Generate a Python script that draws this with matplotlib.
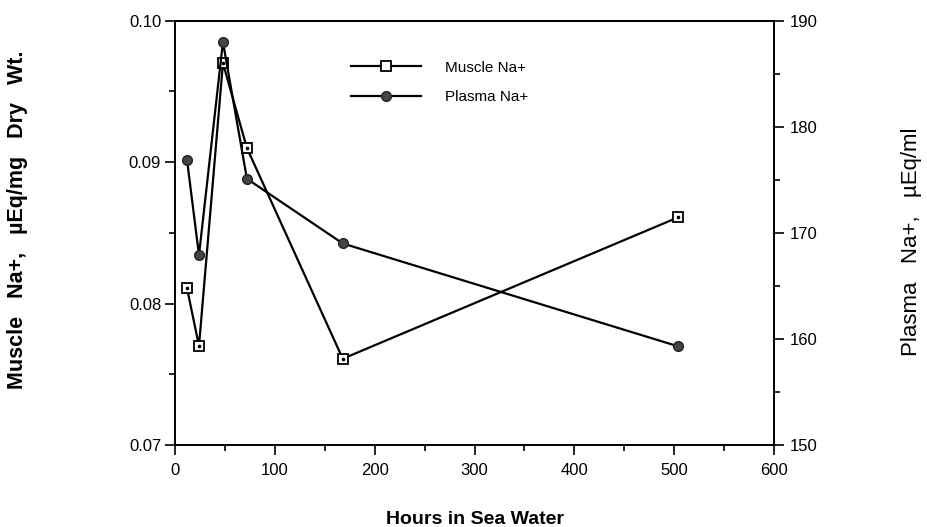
import matplotlib
matplotlib.use("Agg")
import matplotlib.pyplot as plt
from matplotlib.ticker import MultipleLocator, FormatStrFormatter

plt.rcParams['font.family'] = ['Liberation Sans', 'DejaVu Sans']

hours = [12, 24, 48, 72, 168, 504]
muscle_na = [0.0811, 0.0770, 0.0970, 0.0910, 0.0761, 0.0861]
plasma_na = [176.9, 167.9, 188.0, 175.1, 169.0, 159.3]

x_label = "Hours in Sea Water"
left_label = "Muscle   Na+,   \u00b5Eq/mg   Dry   Wt."
right_label = "Plasma   Na+,   \u00b5Eq/ml"
series_names = ["Muscle Na+", "Plasma Na+"]

fig = plt.figure(figsize=(9.28, 5.27), dpi=100)
ax = fig.add_axes([0.1886, 0.1556, 0.6455, 0.8051])
ax2 = ax.twinx()

lw = 1.6
m1, = ax.plot(hours, muscle_na, color='black', lw=lw, marker='s', ms=7,
              mfc='white', mec='black', mew=1.3, zorder=3, label=series_names[0])
ax.plot(hours, muscle_na, ls='none', marker='o', ms=1.6, color='black', zorder=4)
p1, = ax2.plot(hours, plasma_na, color='black', lw=lw, marker='o', ms=7,
               mfc='#444444', mec='#222222', zorder=3, label=series_names[1])

ax.set_xlim(0, 600)
ax.set_ylim(0.07, 0.10)
ax2.set_ylim(150, 190)

ax.xaxis.set_major_locator(MultipleLocator(100))
ax.xaxis.set_minor_locator(MultipleLocator(50))
ax.yaxis.set_major_locator(MultipleLocator(0.01))
ax.yaxis.set_minor_locator(MultipleLocator(0.005))
ax.yaxis.set_major_formatter(FormatStrFormatter('%.2f'))
ax2.yaxis.set_major_locator(MultipleLocator(10))
ax2.yaxis.set_minor_locator(MultipleLocator(5))

for a in (ax, ax2):
    for s in a.spines.values():
        s.set_linewidth(1.4)
    a.tick_params(which='both', direction='out', width=1.2, labelsize=12, colors='black')
    a.tick_params(which='major', length=7)
    a.tick_params(which='minor', length=4)

ax.spines['right'].set_visible(False)
ax2.spines['left'].set_visible(False)
ax2.spines['bottom'].set_visible(False)
ax.tick_params(axis='x', pad=6)
ax.tick_params(axis='y', pad=3)
ax2.tick_params(axis='y', pad=4)

ax.set_xlabel(x_label, fontsize=14, fontweight='bold')
ax.xaxis.set_label_coords(0.5, -0.155)
ax.set_ylabel(left_label, fontsize=15.5, fontweight='bold')
ax.yaxis.set_label_coords(-0.245, 0.53)
ax2.set_ylabel(right_label, fontsize=16)
ax2.yaxis.set_label_coords(1.212, 0.48)

leg = ax.legend(handles=[m1, p1], loc='upper left',
                bbox_to_anchor=(0.378, 0.885), bbox_transform=fig.transFigure,
                frameon=False, fontsize=11, handlelength=4.6, handletextpad=1.55,
                labelspacing=1.0, borderpad=0, borderaxespad=0)

fig.savefig("out.png", dpi=100)
